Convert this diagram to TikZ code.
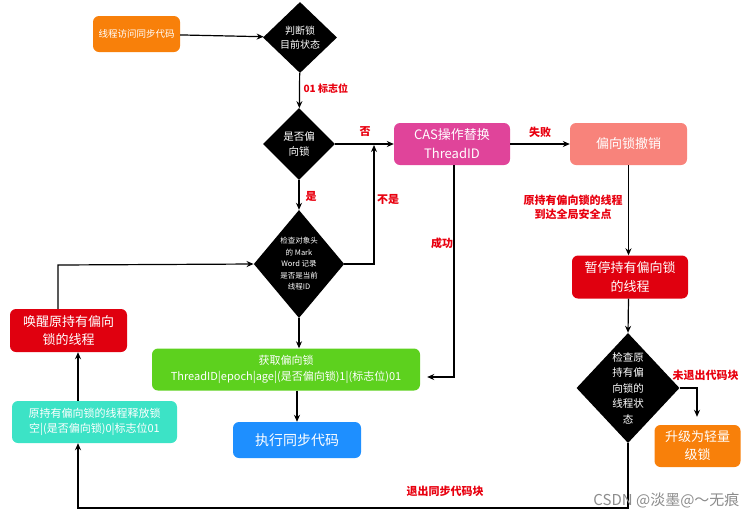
\documentclass[tikz,border=0pt]{standalone}
\usepackage{fontspec}
\setmainfont{Noto Sans CJK SC}
\usetikzlibrary{arrows.meta, shapes.geometric}
\definecolor{cOrange}{HTML}{F8800A}
\definecolor{cPink}{HTML}{E0449A}
\definecolor{cSalmon}{HTML}{F8837B}
\definecolor{cRed}{HTML}{E0000F}
\definecolor{cGreen}{HTML}{5DD11E}
\definecolor{cBlue}{HTML}{1E8FFF}
\definecolor{cTeal}{HTML}{3CE3C6}
\definecolor{cLabel}{HTML}{E8000F}
\newcommand{\fs}[2]{\fontsize{#1}{#2}\selectfont}
\begin{document}
\begin{tikzpicture}[
    x=1pt, y=-1pt,
    box/.style={rectangle, rounded corners=6pt, inner sep=0pt, align=center, text=white},
    decision/.style={diamond, fill=black, inner sep=0pt, align=center, text=white},
    lbl/.style={text=cLabel, font=\fs{11}{14}\bfseries, align=center},
    arrow/.style={-{Stealth[length=7pt,width=6pt]}, line width=1.2pt},
    line/.style={line width=1.2pt}
]
    \useasboundingbox (0,0) rectangle (751,520);

    % Start
    \node[box, fill=cOrange, minimum width=87pt, minimum height=36pt, font=\fs{9.5}{12}] (access) at (136.5,34) {线程访问同步代码};
    \node[decision, minimum width=74pt, minimum height=71pt, font=\fs{10}{14}] (state) at (300,37.5) {判断锁\\目前状态};
    \draw[arrow] (access) -- (state);

    % Biased?
    \node[decision, minimum width=72pt, minimum height=72pt, font=\fs{10.5}{15}] (biased) at (299,144) {是否偏\\向锁};
    \draw[arrow] (state) -- (biased);
    \node[lbl, anchor=west, font=\fs{10}{12}\bfseries] (flag) at (300,89) {01 标志位};

    % CAS
    \node[box, fill=cPink, minimum width=116pt, minimum height=42pt, font=\fs{13}{19}] (cas) at (452,144) {CAS操作替换\\ThreadID};
    \node[box, fill=cSalmon, minimum width=117pt, minimum height=42pt, font=\fs{13}{19}] (revoke) at (628.5,144) {偏向锁撤销};
    \draw[arrow] (biased) -- (cas);
    \draw[arrow] (cas) -- (revoke);
    \node[lbl] (no) at (365,132) {否};
    \node[lbl] (fail) at (540,132) {失败};

    % Revoke path
    \node[box, fill=cRed, minimum width=116pt, minimum height=43pt, font=\fs{13}{19}] (pause) at (630,277) {暂停持有偏向锁\\的线程};
    \draw[arrow] (revoke.south) -- (revoke.south |- pause.north);
    \node[lbl] (safe) at (573,207) {原持有偏向锁的线程\\到达全局安全点};

    \node[decision, minimum width=86pt, minimum height=110pt, font=\fs{10.5}{15.5}] (check) at (628,388) {检查原\\持有偏\\向锁的\\线程状\\态};
    \draw[arrow] (revoke.south |- pause.south) -- (check.north);

    \node[box, fill=cOrange, minimum width=86pt, minimum height=42pt, font=\fs{13}{18}] (upgrade) at (697.5,446) {升级为轻量\\级锁};
    \coordinate (upTurn) at (697,388);
    \draw[arrow] (check.east) -- (upTurn) -- ([yshift=8pt]upTurn |- upgrade.north);
    \node[lbl, anchor=west] (alive) at (669,375) {未退出代码块};

    % Exit path
    \node[box, fill=cTeal, minimum width=165pt, minimum height=42pt, font=\fs{11}{15.5}] (release) at (94.5,422) {原持有偏向锁的线程释放锁\\空|(是否偏向锁)0|标志位01};
    \node[box, fill=cRed, minimum width=117pt, minimum height=43pt, font=\fs{13}{18}] (wake) at (68.5,330.5) {唤醒原持有偏向\\锁的线程};
    \coordinate (exitR) at (628,508);
    \coordinate (exitL) at (78,508);
    \draw[arrow] (check.south) -- (exitR) -- (exitL) -- (exitL |- release.south);
    \node[lbl] (exit) at (445,491) {退出同步代码块};
    \draw[arrow] (exitL |- release.north) -- (exitL |- wake.south);

    % Mark Word check
    \node[decision, minimum width=86pt, minimum height=108pt, font=\fs{7.5}{11.5}] (mark) at (299,264) {检查对象头\\的 Mark\\Word 记录\\是否是当前\\线程ID};
    \draw[arrow] (biased) -- (mark);
    \node[lbl] (yes) at (311,196) {是};
    \coordinate (wakeUp) at (58,265);
    \draw[arrow] (wakeUp |- wake.north) -- (wakeUp) -- (mark.west);
    \coordinate (notJoin) at (374,264);
    \draw[arrow] (mark.east) -- (notJoin) -- ([yshift=-1pt]notJoin |- biased.east);
    \node[lbl] (notme) at (388,199) {不是};

    % Acquire
    \node[box, fill=cGreen, minimum width=268pt, minimum height=42pt, font=\fs{11}{16}] (acquire) at (286,369.5) {获取偏向锁\\ThreadID|epoch|age|(是否偏向锁)1|(标志位)01};
    \draw[arrow] (mark.south) -- (mark.south |- acquire.north);
    \coordinate (succ) at (454,377);
    \draw[arrow] (succ |- cas.south) -- (succ) -- ([xshift=7pt]acquire.east |- succ);
    \node[lbl] (ok) at (442,243) {成功};

    \node[box, fill=cBlue, minimum width=128pt, minimum height=36pt, font=\fs{14}{18}] (run) at (297,440) {执行同步代码};
    \draw[arrow] (run.north |- acquire.south) -- (run.north);

    % Watermark
    \node[text=black!45, font=\fs{15}{18}, anchor=east] (mark2) at (743,500) {CSDN @淡墨@～无痕};
\end{tikzpicture}
\end{document}
